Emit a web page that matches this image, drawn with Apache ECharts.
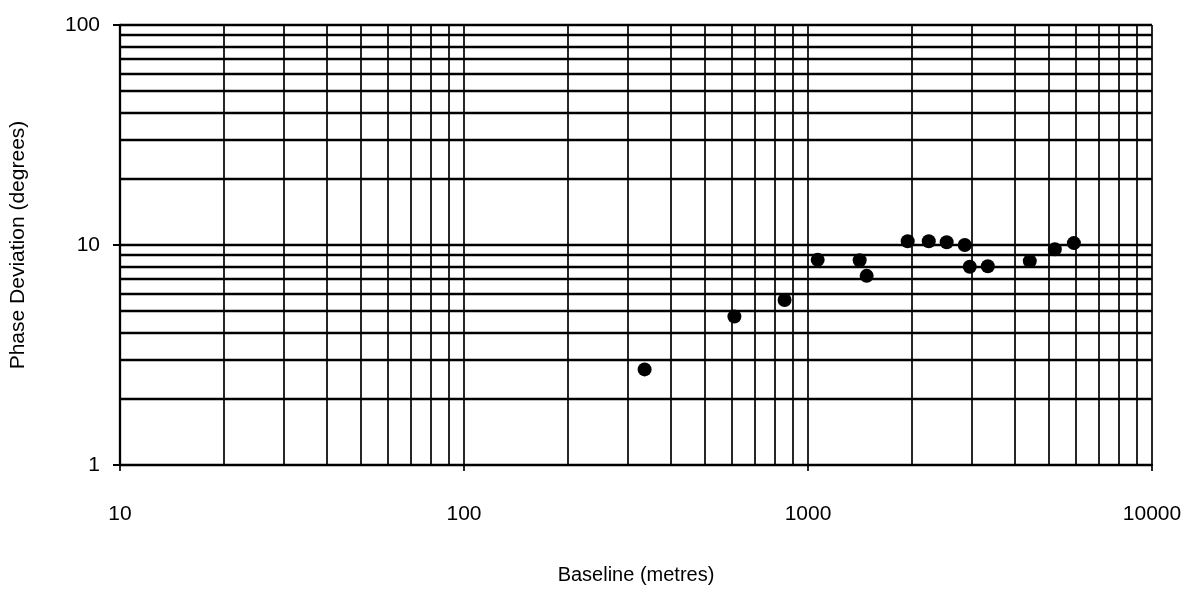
<!DOCTYPE html>
<html>
<head>
<meta charset="utf-8">
<script src="https://cdn.jsdelivr.net/npm/echarts@6/dist/echarts.min.js"></script>
<style>
  html, body { margin: 0; padding: 0; background: #fff; }
  #chart { width: 1188px; height: 590px; }
</style>
</head>
<body>
<div id="chart"></div>
<script>
// Data
const baseline = [335, 611, 855, 1067, 1413, 1481, 1949, 2244, 2530, 2855, 2953, 3332, 4413, 5218, 5928];
const phaseDeviation = [2.72, 4.73, 5.62, 8.56, 8.52, 7.24, 10.4, 10.4, 10.3, 10.0, 7.96, 8.01, 8.45, 9.57, 10.2];

// Grid-line values (log paper)
const xMinorGrid = [20, 30, 40, 50, 60, 70, 80, 90, 200, 300, 400, 500, 600, 700, 800, 900, 2000, 3000, 4000, 5000, 6000, 7000, 8000, 9000];
const xMajorGrid = [100, 1000, 10000];
const yMinorGrid = [2, 3, 4, 5, 6, 7, 8, 9, 20, 30, 40, 50, 60, 70, 80, 90];
const yMajorGrid = [10, 100];

const xTitle = 'Baseline (metres)';
const yTitle = 'Phase Deviation (degrees)';

const font = 'Liberation Sans, Arial, Helvetica, sans-serif';

const chart = echarts.init(document.getElementById('chart'), null, { renderer: 'canvas' });

const vLine = { color: '#000', width: 1.7, type: 'solid' };
const hLine = { color: '#000', width: 2.3, type: 'solid' };

const markData = []
  .concat(xMinorGrid.map(v => ({ xAxis: v, lineStyle: vLine })))
  .concat(xMajorGrid.map(v => ({ xAxis: v, lineStyle: vLine })))
  .concat(yMinorGrid.map(v => ({ yAxis: v, lineStyle: hLine })))
  .concat(yMajorGrid.map(v => ({ yAxis: v, lineStyle: hLine })));

chart.setOption({
  animation: false,
  backgroundColor: '#fff',
  grid: { left: 120, right: 36, top: 25, bottom: 122, containLabel: false },
  xAxis: {
    type: 'log',
    logBase: 10,
    min: 10,
    max: 10000,
    name: xTitle,
    nameLocation: 'middle',
    nameGap: 100,
    nameTextStyle: { fontFamily: font, fontSize: 20, color: '#000' },
    axisLine: { show: true, lineStyle: { color: '#000', width: 2.3 } },
    axisTick: { show: true, length: 6, inside: false, lineStyle: { color: '#000', width: 1.7 } },
    axisLabel: {
      show: true, margin: 39, fontFamily: font, fontSize: 21, color: '#000',
      showMinLabel: true, showMaxLabel: true,
      formatter: v => String(Math.round(v))
    },
    splitLine: { show: false }
  },
  yAxis: {
    type: 'log',
    logBase: 10,
    min: 1,
    max: 100,
    name: yTitle,
    nameLocation: 'middle',
    nameRotate: 90,
    nameGap: 91,
    nameTextStyle: { fontFamily: font, fontSize: 21, color: '#000' },
    axisLine: { show: true, lineStyle: { color: '#000', width: 2.3 } },
    axisTick: { show: true, length: 7, inside: false, lineStyle: { color: '#000', width: 2 } },
    axisLabel: {
      show: true, margin: 20, fontFamily: font, fontSize: 21, color: '#000',
      showMinLabel: true, showMaxLabel: true,
      formatter: v => String(Math.round(v))
    },
    splitLine: { show: false }
  },
  series: [{
    type: 'scatter',
    data: baseline.map((x, i) => [x, phaseDeviation[i]]),
    symbol: 'circle',
    symbolSize: 14,
    itemStyle: { color: '#000', opacity: 1 },
    z: 5,
    markLine: {
      silent: true,
      symbol: ['none', 'none'],
      label: { show: false },
      emphasis: { disabled: true },
      data: markData,
      z: 1
    }
  }]
});
</script>
</body>
</html>
